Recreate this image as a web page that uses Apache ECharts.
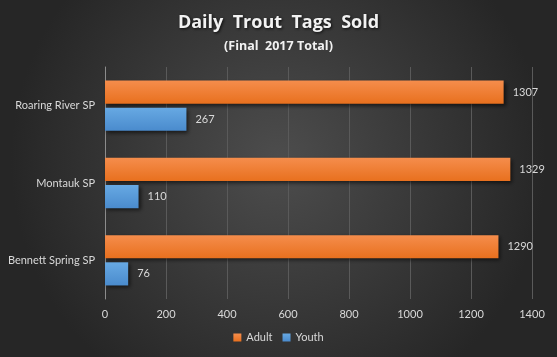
<!DOCTYPE html>
<html><head><meta charset="utf-8">
<script src="https://cdn.jsdelivr.net/npm/echarts@6/dist/echarts.min.js"></script>
<style>html,body{margin:0;padding:0;background:#333}#c{width:557px;height:357px}</style>
</head><body><div id="c"></div>
<script>
const categories = ['Bennett Spring SP', 'Montauk SP', 'Roaring River SP'];
const adult = [1290, 1329, 1307];
const youth = [76, 110, 267];
const xTicks = [0, 200, 400, 600, 800, 1000, 1200, 1400];

const chart = echarts.init(document.getElementById('c'));
const font = 'Lato, "Open Sans", sans-serif';
const tfont = '"Open Sans", Lato, sans-serif';
chart.setOption({
  backgroundColor: {type:'radial', x:0.5, y:0.45, r:0.75, colorStops:[{offset:0,color:'#4d4d4d'},{offset:1,color:'#262626'}]},
  title: [{
    text: 'Daily  Trout  Tags  Sold', left: 'center', top: 9,
    textStyle: {color:'#f2f2f2', fontSize: 18, fontWeight:'bold', fontFamily: tfont, textShadowColor:'rgba(0,0,0,0.8)', textShadowBlur:3, textShadowOffsetX:1, textShadowOffsetY:1}
  },{
    text: '(Final  2017 Total)', left: 'center', top: 35,
    textStyle: {color:'#f2f2f2', fontSize: 12.5, fontWeight:'bold', fontFamily: tfont}
  }],
  legend: {
    bottom: 9, left: 'center', itemWidth: 8, itemHeight: 8, itemGap: 10,
    icon: 'rect',
    textStyle: {color:'#d9d9d9', fontSize: 11, fontFamily: font},
    data: ['Adult', 'Youth']
  },
  grid: {left: 105, right: 25, top: 67, bottom: 58},
  xAxis: {
    type: 'value', min: 0, max: 1400, interval: 200,
    axisLine: {show:false}, axisTick:{show:false},
    splitLine: {lineStyle:{color:'#5a5a5a', width:1}},
    axisLabel: {color:'#d9d9d9', fontSize: 11, fontFamily: font, margin: 10,
      formatter: v => xTicks.includes(v) ? String(v) : ''}
  },
  yAxis: {
    type: 'category', data: categories,
    axisLine: {show:true, lineStyle:{color:'#8c8c8c'}}, axisTick:{show:false},
    axisLabel: {color:'#d9d9d9', fontSize: 11, fontFamily: font, margin: 10}
  },
  series: [{
    name: 'Adult', type: 'bar', data: adult, barGap: '17%', barCategoryGap: '35%',
    itemStyle: {color: {type:'linear', x:0,y:0,x2:0,y2:1, colorStops:[{offset:0,color:'#f58d4c'},{offset:1,color:'#e8701e'}]},
      shadowColor:'rgba(0,0,0,0.6)', shadowBlur:4, shadowOffsetX:2, shadowOffsetY:2},
    label: {show:true, position:'right', distance: 9, color:'#d9d9d9', fontSize: 11, fontFamily: font}
  },{
    name: 'Youth', type: 'bar', data: youth,
    itemStyle: {color: {type:'linear', x:0,y:0,x2:0,y2:1, colorStops:[{offset:0,color:'#67a9e3'},{offset:1,color:'#4a8bcd'}]},
      shadowColor:'rgba(0,0,0,0.6)', shadowBlur:4, shadowOffsetX:2, shadowOffsetY:2},
    label: {show:true, position:'right', distance: 9, color:'#d9d9d9', fontSize: 11, fontFamily: font}
  }]
});
</script></body></html>
